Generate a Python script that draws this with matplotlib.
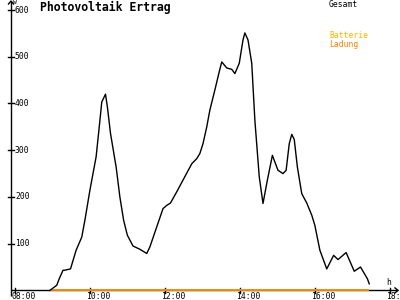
import matplotlib
matplotlib.use("Agg")
import matplotlib.pyplot as plt

# ---- data ----
times = ["08:55", "09:06", "09:10", "09:16", "09:18", "09:28", "09:37", "09:46", "09:51", "09:59",
         "10:09", "10:14", "10:18", "10:24", "10:27", "10:32", "10:41", "10:47", "10:53", "10:59",
         "11:08", "11:19", "11:30", "11:35", "11:46", "11:56", "12:02", "12:08", "12:18", "12:28",
         "12:42", "12:50", "12:55", "13:00", "13:06", "13:11", "13:19", "13:26", "13:30", "13:38",
         "13:46", "13:51", "13:58", "14:04", "14:07", "14:12", "14:18", "14:23", "14:30", "14:36",
         "14:43", "14:51", "15:00", "15:08", "15:13", "15:18", "15:22", "15:26", "15:31", "15:38",
         "15:46", "15:54", "15:59", "16:07", "16:18", "16:29", "16:36", "16:49", "17:02", "17:12",
         "17:23", "17:26"]
gesamt = [0, 11, 25, 43, 43, 46, 86, 114, 150, 214,
          286, 350, 403, 420, 393, 336, 264, 200, 150, 118,
          95, 88, 79, 93, 136, 175, 182, 187, 211, 236,
          271, 282, 293, 314, 350, 386, 429, 468, 489, 476,
          473, 464, 486, 536, 551, 536, 486, 364, 243, 186,
          236, 289, 257, 250, 257, 314, 334, 323, 264, 207,
          187, 161, 139, 86, 46, 75, 66, 81, 41, 50,
          25, 14]
batterie = [0] * len(times)
ladung = [0] * len(times)

y_ticks = [100, 200, 300, 400, 500, 600]
x_ticks = [8, 10, 12, 14, 16, 18]
x_labels = ["08:00", "10:00", "12:00", "14:00", "16:00", "18:00"]

def to_h(s):
    h, m = s.split(":")
    return int(h) + int(m) / 60.0

t = [to_h(s) for s in times]

# ---- figure ----
fig = plt.figure(figsize=(4, 3), dpi=100)
ax = fig.add_axes([0, 0, 1, 1])
# pixel mapping: x px = 15.5 + 37.5*(h-8) ; y px (from top) = 290.4 - 0.4673*v
x0 = 8 - 15.5 / 37.5
x1 = 8 + (400 - 15.5) / 37.5
y0 = (290.4 - 300) / 0.4673
y1 = 290.4 / 0.4673
ax.set_xlim(x0, x1)
ax.set_ylim(y0, y1)
ax.axis("off")

px = 1 / 37.5          # hours per pixel
py = 1 / 0.4673        # watts per pixel
xa = x0 + 11 * px       # y-axis position

mono = "DejaVu Sans Mono"

# axes lines
ax.plot([xa, xa], [-6 * py, y1 - 1 * py], color="black", lw=1, solid_capstyle="butt")
ax.plot([xa, x1 - 2 * px], [0, 0], color="black", lw=1, solid_capstyle="butt")
# arrows
ax.plot([xa - 2.5 * px, xa, xa + 2.5 * px], [y1 - 4 * py, y1 - 1 * py, y1 - 4 * py], color="black", lw=1)
ax.plot([x1 - 5 * px, x1 - 2 * px, x1 - 5 * px], [2.5 * py, 0, -2.5 * py], color="black", lw=1)

# y ticks
for v in y_ticks:
    ax.plot([xa - 3 * px, xa + 3 * px], [v, v], color="black", lw=1)
    ax.text(xa + 4 * px, v, str(v), fontsize=5.8, family=mono, va="center", ha="left")
# x ticks
for h, lab in zip(x_ticks, x_labels):
    ax.plot([h, h], [-2.5 * py, 2.5 * py], color="black", lw=1)
    ax.text(h - 4 * px, -6 * py, lab, fontsize=5.8, family=mono, va="center", ha="left", clip_on=False)

ax.text(xa + 2.5 * px, y1 - 2.5 * py, "W", fontsize=4.5, family=mono, va="center", ha="left")
ax.text(x1 - 14 * px, 8 * py, "h", fontsize=5.8, family=mono, va="center", ha="left")

# series
ax.plot(t, batterie, color="#FFB400", lw=1.1, solid_capstyle="butt")
ax.plot(t, ladung, color="#FF8000", lw=1.1, solid_capstyle="butt")
ax.plot(t, gesamt, color="black", lw=1.0)

# title and legend
fig.text(40 / 400, 1 - 7.5 / 300, "Photovoltaik Ertrag", fontsize=8.3, family=mono,
         fontweight="bold", va="center", ha="left")
fig.text(329 / 400, 1 - 4.7 / 300, "Gesamt", fontsize=5.8, family=mono, va="center", ha="left", color="black")
fig.text(329 / 400, 1 - 36 / 300, "Batterie", fontsize=5.8, family=mono, va="center", ha="left", color="#FFB400")
fig.text(329 / 400, 1 - 44 / 300, "Ladung", fontsize=5.8, family=mono, va="center", ha="left", color="#FF8000")

fig.savefig("out.png", dpi=100)
